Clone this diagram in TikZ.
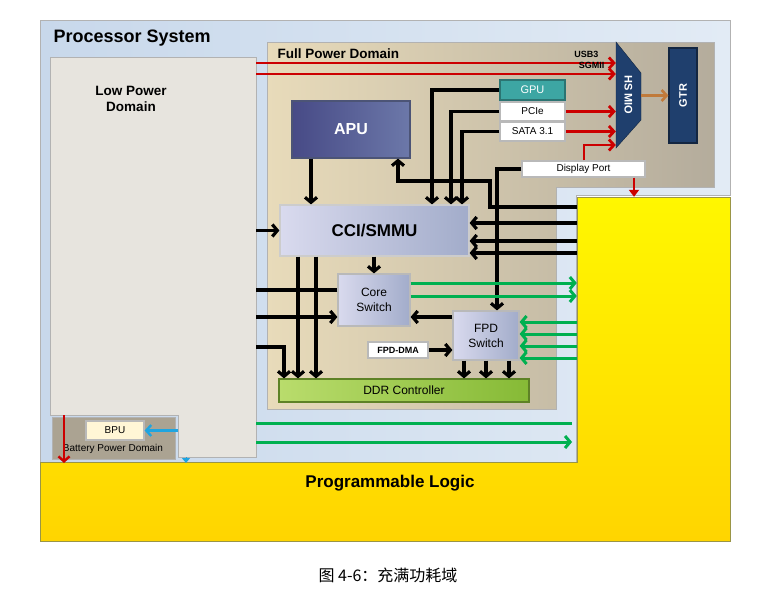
\documentclass[tikz,border=0pt]{standalone}
\usepackage{fontspec}
\setmainfont{Liberation Sans}
\newfontfamily\cjk{Noto Sans CJK SC}
\usetikzlibrary{positioning, arrows.meta}
\definecolor{psL}{HTML}{C8D8EB}
\definecolor{psR}{HTML}{E2EBF5}
\definecolor{lpdC}{HTML}{E7E4DE}
\definecolor{fpdL}{HTML}{E8DBBA}
\definecolor{fpdR}{HTML}{B4AC9C}
\definecolor{apuL}{HTML}{474A86}
\definecolor{apuR}{HTML}{6C78A9}
\definecolor{swL}{HTML}{D9DAEE}
\definecolor{swR}{HTML}{A2ACCA}
\definecolor{ddrL}{HTML}{B9DC6C}
\definecolor{ddrR}{HTML}{86BA36}
\definecolor{gpuC}{HTML}{3DA6A3}
\definecolor{mioC}{HTML}{1F3F6D}
\definecolor{bpdC}{HTML}{ABA392}
\definecolor{bpuC}{HTML}{FFF6D6}
\definecolor{plT}{HTML}{FFF700}
\definecolor{plB}{HTML}{FFD500}
\definecolor{redC}{HTML}{CC0000}
\definecolor{grnC}{HTML}{00B050}
\definecolor{bluC}{HTML}{1FA5E0}
\definecolor{brnC}{HTML}{C07A3A}
\tikzset{area/.style={draw=gray!60, line width=0.6pt},
         block/.style={draw=gray!55, line width=1.2pt, inner sep=0pt, align=center},
         tagbox/.style={block, fill=white, font=\fontsize{10}{11}\selectfont},
         hole/.style={inner sep=0pt},
         bus/.style={line width=3.2pt, -{Straight Barb[length=5pt,width=12pt]}},
         wire/.style={line width=3.2pt},
         rbus/.style={redC, line width=2.8pt, -{Straight Barb[length=5pt,width=11pt]}},
         gbus/.style={grnC, line width=3pt, -{Straight Barb[length=5pt,width=12pt]}},
         gwire/.style={grnC, line width=3pt},
        }

\begin{document}
\begin{tikzpicture}[x=1pt,y=-1pt]
        \useasboundingbox (0,0) rectangle (767,597);
        \fill[white] (0,0) rectangle (767,597);
        % processor system and programmable logic
        \path[area, left color=psL, right color=psR] (40,20) -- (730,20) -- (730,195) -- (576,195) -- (576,462) -- (40,462) -- cycle;
        \path[draw=yellow!55!black, line width=0.8pt, top color=plT, bottom color=plB] (40,462) -- (577,462) -- (577,197) -- (730,197) -- (730,541) -- (40,541) -- cycle;
        \node[hole, minimum width=153pt, minimum height=265pt](plcol)at(653.5,329.5){};
        \node[anchor=west, font=\bfseries\fontsize{18}{21}\selectfont](ps)at(50,38){Processor System};
        \node[font=\bfseries\fontsize{17}{20}\selectfont](pl)at(390,483){Programmable Logic};

        % low power domain
        \path[area, fill=lpdC] (50,57) -- (256,57) -- (256,457) -- (178,457) -- (178,415) -- (50,415) -- cycle;
        \node[hole, minimum width=206pt, minimum height=400pt](lpd)at(153,257){};
        \node[align=center, font=\bfseries\fontsize{13.5}{16}\selectfont](lpdname)at(131,99){Low Power\\Domain};

        % battery power domain
        \node[area, fill=bpdC, minimum width=123pt, minimum height=42pt, inner sep=0pt](bpd)at(113.5,438){};
        \node[font=\fontsize{10}{11}\selectfont](bpdname)at(113,449){Battery Power Domain};
        \node[block, fill=bpuC, minimum width=58pt, minimum height=19pt, font=\fontsize{10}{11}\selectfont](bpu)at(115,430.5){BPU};

        % full power domain
        \path[area, left color=fpdL, right color=fpdR] (267,42) -- (714,42) -- (714,187) -- (556,187) -- (556,409) -- (267,409) -- cycle;
        \node[anchor=west, font=\bfseries\fontsize{13.5}{15}\selectfont](fpdname)at(274,54){Full Power Domain};

        \node[block, draw=apuR!70!black, left color=apuL, right color=apuR, text=white, minimum width=118pt, minimum height=57pt, font=\bfseries\fontsize{16}{19}\selectfont](apu)at(351,129.5){APU};
        \node[block, draw=gray!40, left color=swL, right color=swR, minimum width=189pt, minimum height=51pt, font=\bfseries\fontsize{17}{20}\selectfont](cci)at(374.5,230.5){CCI/SMMU};
        \node[block, left color=swL, right color=swR, minimum width=72pt, minimum height=52pt, font=\fontsize{12}{15}\selectfont](core)at(374,300){Core\\Switch};
        \node[block, left color=swL, right color=swR, minimum width=66pt, minimum height=49pt, font=\fontsize{12}{15}\selectfont](fpdsw)at(486,335.5){FPD\\Switch};
        \node[block, minimum width=60pt, minimum height=16pt, fill=white, font=\bfseries\fontsize{9}{10}\selectfont](dma)at(398,350){FPD-DMA};
        \node[block, draw=ddrR!70!black, left color=ddrL, right color=ddrR, minimum width=250pt, minimum height=23pt, font=\fontsize{12}{14}\selectfont](ddr)at(404,390.5){DDR Controller};

        \node[block, draw=gpuC!70!black, fill=gpuC, text=white, minimum width=65pt, minimum height=20pt, font=\fontsize{11}{13}\selectfont](gpu)at(532.5,90){GPU};
        \node[tagbox, minimum width=65pt, minimum height=19pt](pcie)at(532.5,111.5){PCIe};
        \node[tagbox, minimum width=65pt, minimum height=19pt](sata)at(532.5,131.5){SATA 3.1};
        \node[tagbox, minimum width=123pt, minimum height=16pt](dp)at(583.5,169){Display Port};

        % high speed io
        \path[fill=mioC, draw=mioC!60!black] (616,42) -- (641,73) -- (641,120) -- (616,148) -- cycle;
        \node[hole, minimum width=25pt, minimum height=106pt](mio)at(628.5,95){};
        \node[rotate=-90, text=white, font=\bfseries\fontsize{11}{13}\selectfont](mioname)at(mio){HS MIO};
        \node[block, draw=mioC!60!black, fill=mioC, text=white, minimum width=28pt, minimum height=95pt](gtr)at(683,95.5){};
        \node[rotate=90, text=white, font=\bfseries\fontsize{11}{13}\selectfont](gtrname)at(gtr){GTR};
        \draw[brnC, line width=2.6pt, -{Straight Barb[length=5pt,width=11pt]}](mio.east |- gtr.west)--(gtr.west);

        % red links to HS MIO
        \draw[rbus](lpd.east |- 0,63)--(mio.west |- 0,63);
        \draw[rbus](lpd.east |- 0,74)--(mio.west |- 0,74);
        \node[anchor=south east, font=\bfseries\fontsize{9}{10}\selectfont](usb)at(602,61){USB3};
        \node[anchor=south east, font=\bfseries\fontsize{9}{10}\selectfont](sgmii)at(608,72){SGMII};
        \draw[rbus](pcie.east)--(mio.west |- pcie.east);
        \draw[rbus](sata.east)--(mio.west |- sata.east);
        \draw[rbus](dp.north -| 584,0)--(584,145)--(mio.west |- 0,145);
        \draw[redC, line width=2.6pt, -{Triangle[length=7pt,width=10pt]}](dp.south -| 634,0)--(plcol.north -| 634,0);

        % black links
        \draw[bus](apu.south -| 311,0)--(cci.north -| 311,0);
        \draw[bus](gpu.west)--(432,90)--(cci.north -| 432,0);
        \draw[bus](pcie.west)--(451,111.5)--(cci.north -| 451,0);
        \draw[bus](sata.west)--(462,131.5)--(cci.north -| 462,0);
        \draw[bus](plcol.west |- 0,207)--(490,207)--(490,181)--(398,181)--(apu.south -| 398,0);
        \draw[bus](dp.west)--(497,169)--(fpdsw.north -| 497,0);
        \draw[bus](plcol.west |- 0,223)--(cci.east |- 0,223);
        \draw[bus](plcol.west |- 0,241)--(cci.east |- 0,241);
        \draw[bus](plcol.west |- 0,253)--(cci.east |- 0,253);
        \draw[bus](lpd.east |- cci.west)--(cci.west);
        \draw[bus](cci.south -| core.north)--(core.north);
        \draw[bus](cci.south -| 298,0)--(ddr.north -| 298,0);
        \draw[bus](cci.south -| 316,0)--(ddr.north -| 316,0);
        \draw[wire](core.west |- 0,290)--(lpd.east |- 0,290);
        \draw[bus](lpd.east |- 0,317)--(core.west |- 0,317);
        \draw[bus](lpd.east |- 0,347)--(284,347)--(ddr.north -| 284,0);
        \draw[bus](fpdsw.west |- 0,317)--(core.east |- 0,317);
        \draw[bus](dma.east)--(fpdsw.west |- dma.east);
        \foreach \x in {464,486,509}
            \draw[bus](fpdsw.south -| \x,0)--(ddr.north -| \x,0);

        % green links
        \draw[gbus](core.east |- 0,283)--(plcol.west |- 0,283);
        \draw[gbus](core.east |- 0,296)--(plcol.west |- 0,296);
        \foreach \y in {322,334,346,358}
            \draw[gbus](plcol.west |- 0,\y)--(fpdsw.east |- 0,\y);
        \draw[gwire](lpd.east |- 0,423)--(572,423);
        \draw[gbus](lpd.east |- 0,442)--(572,442);

        % battery and low power links
        \draw[bluC, line width=2.4pt, -{Straight Barb[length=5pt,width=11pt]}](178,430.5)--(bpu.east);
        \draw[bluC, line width=1pt, -{Triangle[length=5pt,width=8pt]}](186,457)--(186,463);
        \draw[redC, line width=2.4pt, -{Straight Barb[length=5pt,width=11pt]}](64,415)--(64,463);

        % caption
        \node[font=\cjk\fontsize{16}{19}\selectfont](cap)at(388,575){图 4-6：充满功耗域};
    \end{tikzpicture}
\end{document}
